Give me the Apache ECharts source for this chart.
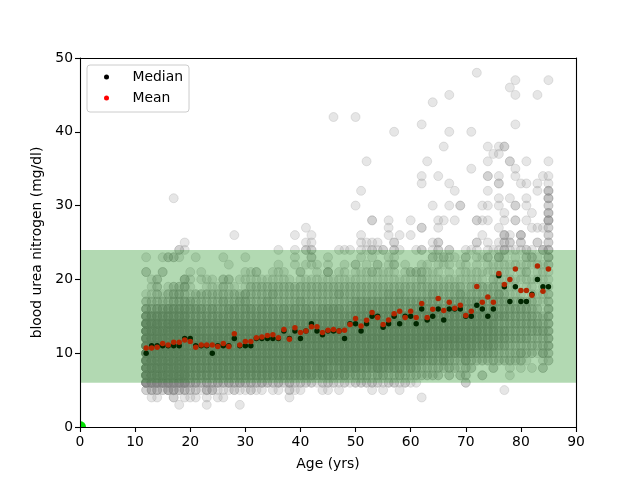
<!DOCTYPE html>
<html><head><meta charset="utf-8">
<script src="https://cdn.jsdelivr.net/npm/echarts@6/dist/echarts.min.js"></script>
<style>html,body{margin:0;padding:0;background:#fff}#c{width:640px;height:480px}</style>
</head><body><div id="c"></div>
<script>
const ages=[12,13,14,15,16,17,18,19,20,21,22,23,24,25,26,27,28,29,30,31,32,33,34,35,36,37,38,39,40,41,42,43,44,45,46,47,48,49,50,51,52,53,54,55,56,57,58,59,60,61,62,63,64,65,66,67,68,69,70,71,72,73,74,75,76,77,78,79,80,81,82,83,84,85];
const medians=[10,11,11,11,11,11,11,12,12,11,11,11,10,11,11,11,12,11,11,11,12,12,12,12,12,13,12,13,12,13,14,13,12.5,13,13,13,12,14,14,13,14,15,15,13.5,14,15,14,15,15,14,16,14.5,15,16,14.5,16,16,16,15,15,16.5,16,15,16,20.5,19,17,19,17,17,18,20,19,19];
const means=[10.7,10.7,10.8,11.3,11.1,11.5,11.5,11.8,11.6,10.8,11.1,11.1,11.1,10.9,11.3,10.9,12.65,11.1,11.6,11.6,12.1,12.2,12.4,12.5,12.1,13.2,11.9,13.45,12.8,13,13.6,13.6,12.8,13.1,13.2,13,13.1,13.9,14.7,13.7,14.45,15.5,14.85,13.9,14.5,15.35,15.7,14.85,15.7,14.85,16.75,14.85,15.95,17.4,15.8,16.9,16.1,16.5,15.1,15.7,19.05,16.9,17.6,16.9,20.8,19.3,20,21.4,18.5,18.5,17.85,21.8,18.4,21.4];
const bunRowValues=[3,4,5,6,7,8,9,10,11,12,13,14,15,16,17,18,19,20,21,22,23,24];
const countsByAge=[
[0,0,2,8,9,9,9,9,9,9,9,9,6,4,2,1,0,0,2,0,1,0],
[0,1,3,8,9,9,9,9,9,9,9,8,6,3,2,1,1,1,0,0,0,0],
[0,1,3,8,9,9,9,9,9,9,9,9,6,4,2,2,2,2,0,0,0,0],
[0,0,2,8,9,9,9,9,9,9,9,7,6,4,2,1,0,0,2,0,1,0],
[0,0,4,8,9,9,9,9,9,9,9,9,6,5,2,2,1,0,0,0,2,0],
[0,2,4,8,9,9,9,9,9,9,9,9,6,5,3,3,2,0,0,0,2,0],
[1,0,3,8,9,9,9,9,9,9,9,9,6,5,3,3,2,0,0,0,1,2],
[0,1,3,8,9,9,9,9,9,9,9,9,6,5,3,2,3,3,0,0,0,1],
[0,1,2,4,5,6,6,6,6,7,6,5,4,4,3,1,1,1,1,0,0,0],
[0,1,2,4,5,6,6,6,6,7,6,5,4,4,2,2,0,0,0,0,1,0],
[0,0,1,3,5,6,6,6,6,7,6,5,4,4,2,2,0,1,1,0,0,0],
[1,1,3,4,5,6,6,6,6,7,5,5,4,3,2,2,1,1,0,0,0,0],
[0,0,3,3,5,6,6,6,6,7,5,5,4,4,2,2,1,1,0,0,0,0],
[0,1,1,4,5,6,6,6,6,7,6,5,4,3,2,2,1,0,0,0,0,0],
[0,1,1,3,5,6,6,6,6,7,5,5,4,3,3,2,2,2,0,0,1,0],
[0,0,1,4,5,6,6,6,6,7,6,5,4,4,2,2,1,2,0,1,0,0],
[0,0,2,3,5,6,6,6,6,7,5,5,4,4,2,2,1,0,0,0,0,0],
[1,0,1,4,5,6,6,6,6,7,6,5,4,3,3,2,0,1,0,0,0,0],
[0,0,1,3,5,6,6,6,6,7,6,5,4,4,3,3,1,1,1,0,1,0],
[0,0,2,3,5,6,6,6,6,7,6,5,4,4,2,2,2,1,1,0,0,0],
[0,0,1,3,5,6,6,6,6,7,6,5,4,3,2,2,2,1,2,0,0,0],
[0,0,1,3,5,6,6,6,6,7,6,5,4,4,2,2,2,1,0,0,0,0],
[0,0,0,3,5,6,6,6,6,7,6,5,4,3,3,2,2,1,0,0,0,0],
[0,0,1,2,5,6,6,6,6,7,5,5,4,4,2,3,2,1,1,0,0,0],
[0,0,1,3,5,6,6,6,6,7,6,5,4,3,2,2,2,1,1,1,0,1],
[0,0,0,2,5,6,6,6,6,7,6,5,4,4,2,2,2,1,1,0,0,0],
[0,1,2,3,5,6,6,6,6,7,5,5,4,3,2,2,2,1,0,0,0,0],
[0,0,1,2,5,6,6,6,6,7,6,5,4,4,2,2,2,0,0,1,1,1],
[0,0,1,2,5,6,6,6,6,7,6,5,4,3,3,2,2,1,2,0,0,0],
[0,0,0,2,5,6,6,6,6,7,6,5,4,4,2,2,2,1,0,1,0,2],
[0,0,0,2,5,4,6,6,6,7,6,5,4,3,2,2,2,1,0,1,2,2],
[0,0,0,1,4,6,6,6,6,7,6,5,4,3,2,2,2,1,1,1,0,0],
[0,0,1,2,4,6,6,6,6,7,6,5,4,4,2,2,2,1,0,0,0,0],
[0,0,1,2,5,4,6,6,6,7,6,5,4,4,2,2,2,1,3,1,1,0],
[0,0,0,2,4,4,6,6,6,7,6,5,4,4,2,2,2,1,0,0,0,0],
[0,0,1,1,4,4,6,6,6,7,6,5,4,4,2,3,2,1,1,0,0,1],
[0,0,0,2,4,6,6,6,6,7,6,5,4,3,2,2,2,1,1,1,0,1],
[0,0,0,1,3,4,6,6,6,7,6,5,4,3,2,2,2,1,0,0,0,1],
[0,0,0,2,3,6,6,6,6,7,6,5,5,4,3,2,2,1,1,2,0,0],
[0,0,0,2,3,4,6,6,6,7,6,6,5,4,3,2,2,1,1,0,1,1],
[0,0,0,2,3,4,6,6,6,7,6,6,5,4,3,2,2,1,1,1,0,1],
[0,0,1,2,2,4,6,6,6,7,6,6,5,4,3,2,2,1,2,0,1,2],
[0,0,0,2,3,6,6,6,6,7,6,6,5,4,3,2,2,1,1,2,0,1],
[0,0,1,1,3,4,6,6,6,7,6,5,5,4,3,2,2,1,1,0,0,2],
[0,0,0,2,2,4,6,6,6,7,6,6,5,4,3,3,2,1,1,1,1,0],
[0,0,0,2,2,4,5,6,6,7,6,6,5,4,3,2,2,1,1,2,1,2],
[0,0,1,1,3,4,5,6,6,7,6,6,5,4,3,3,2,1,0,0,0,1],
[0,0,0,2,2,3,5,6,6,7,6,5,5,3,3,2,2,1,1,1,0,0],
[0,0,0,1,2,4,5,6,6,7,6,6,5,4,3,2,2,1,2,0,0,0],
[0,0,0,1,2,3,4,5,6,7,6,5,5,4,3,2,2,1,2,0,0,1],
[0,1,0,0,2,2,4,5,6,7,6,5,5,4,3,2,2,2,2,1,0,2],
[0,0,0,0,2,2,3,4,6,7,6,6,5,4,3,2,2,1,1,1,0,0],
[0,0,0,0,2,2,4,4,5,7,6,6,5,3,3,3,2,1,1,0,2,1],
[0,0,0,0,2,2,3,4,6,7,6,5,5,4,3,2,2,1,1,1,1,2],
[0,0,0,0,0,2,4,4,5,7,6,5,5,3,2,2,2,1,0,1,2,0],
[0,0,0,0,2,2,3,4,5,7,6,6,5,4,3,2,2,1,1,1,1,2],
[0,0,0,0,0,2,2,4,5,7,6,5,5,4,3,2,2,1,0,0,1,0],
[0,0,0,0,2,1,2,4,5,7,6,5,5,3,3,3,2,1,1,1,0,0],
[0,0,0,2,2,2,4,4,5,7,6,5,5,3,3,2,1,1,1,1,2,1],
[0,0,0,0,0,2,2,4,5,6,6,5,5,4,3,2,2,1,1,0,0,1],
[0,0,0,0,0,0,2,3,4,6,6,5,5,4,3,2,2,1,1,1,1,1],
[0,0,0,0,2,0,2,3,4,5,5,5,5,3,3,2,2,1,1,0,1,0],
[0,0,0,0,0,0,2,3,5,5,5,5,3,3,2,2,2,0,1,1,2,1],
[0,0,0,0,0,2,2,3,4,5,5,5,5,3,3,2,2,2,1,1,0,1],
[0,0,0,0,0,0,2,2,3,4,4,3,4,3,3,3,2,1,1,1,3,1],
[0,0,1,0,0,0,2,2,3,4,4,3,4,3,3,2,1,1,1,1,1,3],
[0,0,0,0,1,1,2,2,2,3,3,3,3,3,2,1,1,1,1,1,0,1],
[0,0,0,0,0,0,2,2,2,3,3,3,3,3,2,1,1,1,0,1,1,1],
[0,0,0,0,0,1,2,3,2,3,3,3,3,3,2,1,0,1,1,1,0,1],
[0,0,0,0,0,0,1,2,2,3,3,3,3,3,2,0,1,1,2,1,2,2],
[0,0,0,0,0,1,0,2,2,2,3,3,3,2,2,1,1,1,0,1,2,1],
[0,0,0,0,0,0,0,1,2,2,3,3,2,2,1,1,0,1,1,1,1,0],
[0,0,0,0,0,2,1,3,2,2,3,2,2,0,1,1,1,1,1,1,0,3],
[0,0,0,0,0,0,2,2,3,3,3,3,3,3,2,2,1,1,1,2,3,3]
];
// [age, bun, count] for everything above 24
const upperPoints=[[17,31,1],[19,25,1],[28,26,1],[39,26,1],[41,27,1],[41,25,1],[42,26,1],[42,25,1],[46,42,1],[50,42,1],[50,30,1],[51,32,1],[51,26,1],[51,25,1],[52,36,1],[52,25,1],[53,28,2],[53,25,1],[54,25,1],[56,28,1],[56,27,1],[56,26,1],[57,40,1],[57,25,2],[58,26,1],[60,28,1],[60,26,1],[62,41,1],[62,34,1],[62,33,1],[62,27,2],[63,36,1],[64,44,1],[64,30,1],[64,25,1],[65,34,1],[65,28,1],[65,27,1],[65,25,2],[66,38,1],[66,28,1],[67,45,1],[67,40,1],[67,33,1],[67,30,1],[68,32,1],[68,28,1],[69,30,2],[71,40,1],[71,35,1],[72,48,1],[72,28,2],[72,25,2],[73,30,1],[73,28,1],[73,26,1],[74,38,1],[74,36,1],[74,34,2],[74,32,1],[74,30,1],[74,28,1],[74,25,1],[75,37,1],[76,38,1],[76,37,1],[76,34,1],[76,33,2],[76,31,1],[76,30,1],[76,27,1],[76,25,1],[77,38,2],[77,29,1],[77,28,1],[77,26,3],[77,25,2],[78,46,1],[78,36,2],[78,31,1],[78,26,1],[78,25,2],[79,47,1],[79,45,1],[79,41,1],[79,35,1],[79,34,1],[79,30,2],[79,28,2],[80,33,1],[80,26,3],[80,25,2],[81,36,1],[81,33,1],[81,31,1],[81,30,1],[81,28,1],[82,29,1],[82,27,1],[83,45,1],[83,33,1],[83,32,1],[83,27,1],[83,25,2],[84,34,1],[84,27,1],[85,47,1],[85,36,1],[85,34,1],[85,33,1],[85,32,3],[85,31,3],[85,30,2],[85,29,3],[85,28,4],[85,27,2],[85,26,2],[85,25,2]];
const originPoint=[[0,0]];
const normalRange=[[0,6,90,24]];
const xTicks=[0,90,10];
const yTicks=[0,50,10];

const cases=[];
ages.forEach((a,i)=>countsByAge[i].forEach((n,j)=>{for(let k=0;k<n;k++)cases.push([a,bunRowValues[j]]);}));
upperPoints.forEach(p=>{for(let k=0;k<p[2];k++)cases.push([p[0],p[1]]);});

const font='DejaVu Sans';
const frame={show:true,onZero:false,lineStyle:{color:'#000',width:1.1}};
const chart=echarts.init(document.getElementById('c'),null,{renderer:'canvas'});
chart.setOption({
  animation:false,
  textStyle:{fontFamily:font,color:'#000'},
  grid:{left:80,right:64,top:58,bottom:53,containLabel:false},
  legend:{left:87,top:65,orient:'vertical',data:['Median','Mean'],z:10,
    itemWidth:30,itemHeight:5,itemGap:7,padding:[5,6,7,17],
    backgroundColor:'rgba(255,255,255,0.8)',borderColor:'#ccc',borderWidth:1,borderRadius:3,
    textStyle:{fontFamily:font,fontSize:13.9,color:'#000',padding:[0,0,0,6],lineHeight:14}},
  xAxis:[
   {type:'value',min:xTicks[0],max:xTicks[1],interval:xTicks[2],z:8,name:'Age (yrs)',nameLocation:'middle',nameGap:30,
    nameTextStyle:{fontFamily:font,fontSize:13.9,color:'#000'},
    axisLine:frame,axisTick:{show:true,length:5,lineStyle:{color:'#000',width:1.1}},
    axisLabel:{margin:8,fontFamily:font,fontSize:13.9,color:'#000'},splitLine:{show:false}},
   {type:'value',position:'top',min:xTicks[0],max:xTicks[1],z:8,axisLine:frame,axisTick:{show:false},axisLabel:{show:false},splitLine:{show:false}}
  ],
  yAxis:[
   {type:'value',min:yTicks[0],max:yTicks[1],interval:yTicks[2],z:8,name:'blood urea nitrogen (mg/dl)',nameLocation:'middle',nameGap:31,
    nameTextStyle:{fontFamily:font,fontSize:13.9,color:'#000'},
    axisLine:frame,axisTick:{show:true,length:5,lineStyle:{color:'#000',width:1.1}},
    axisLabel:{margin:7,fontFamily:font,fontSize:13.9,color:'#000',padding:[2,0,0,0]},splitLine:{show:false}},
   {type:'value',position:'right',min:yTicks[0],max:yTicks[1],z:8,axisLine:frame,axisTick:{show:false},axisLabel:{show:false},splitLine:{show:false}}
  ],
  series:[
   {name:'Cases',type:'scatter',z:2,data:cases,symbolSize:9,large:false,progressive:0,silent:true,
    itemStyle:{color:'#808080',opacity:0.2,borderColor:'#808080',borderWidth:1}},
   {name:'Origin',type:'custom',z:3,data:originPoint,silent:true,coordinateSystem:'cartesian2d',
    encode:{x:0,y:1},
    renderItem:(params,api)=>{const c=api.coord([api.value(0),api.value(1)]);
      return {type:'sector',shape:{cx:c[0],cy:c[1],r:6,r0:0,startAngle:-Math.PI/2,endAngle:0,clockwise:true},
        style:{fill:'#00e000'}};}},
   {name:'Median',type:'scatter',z:4,data:ages.map((a,i)=>[a,medians[i]]),symbolSize:5.5,silent:true,itemStyle:{color:'#000',opacity:1}},
   {name:'Mean',type:'scatter',z:5,data:ages.map((a,i)=>[a,means[i]]),symbolSize:5.5,silent:true,itemStyle:{color:'#f00',opacity:1}},
   {name:'Normal range',type:'custom',z:6,data:normalRange,silent:true,coordinateSystem:'cartesian2d',
    encode:{x:[0,2],y:[1,3]},
    renderItem:(params,api)=>{const a=api.coord([api.value(0),api.value(1)]),b=api.coord([api.value(2),api.value(3)]);
      return {type:'rect',shape:{x:a[0],y:b[1],width:b[0]-a[0],height:a[1]-b[1]},style:{fill:'#008000',opacity:0.3}};}}
  ]
});
</script></body></html>
